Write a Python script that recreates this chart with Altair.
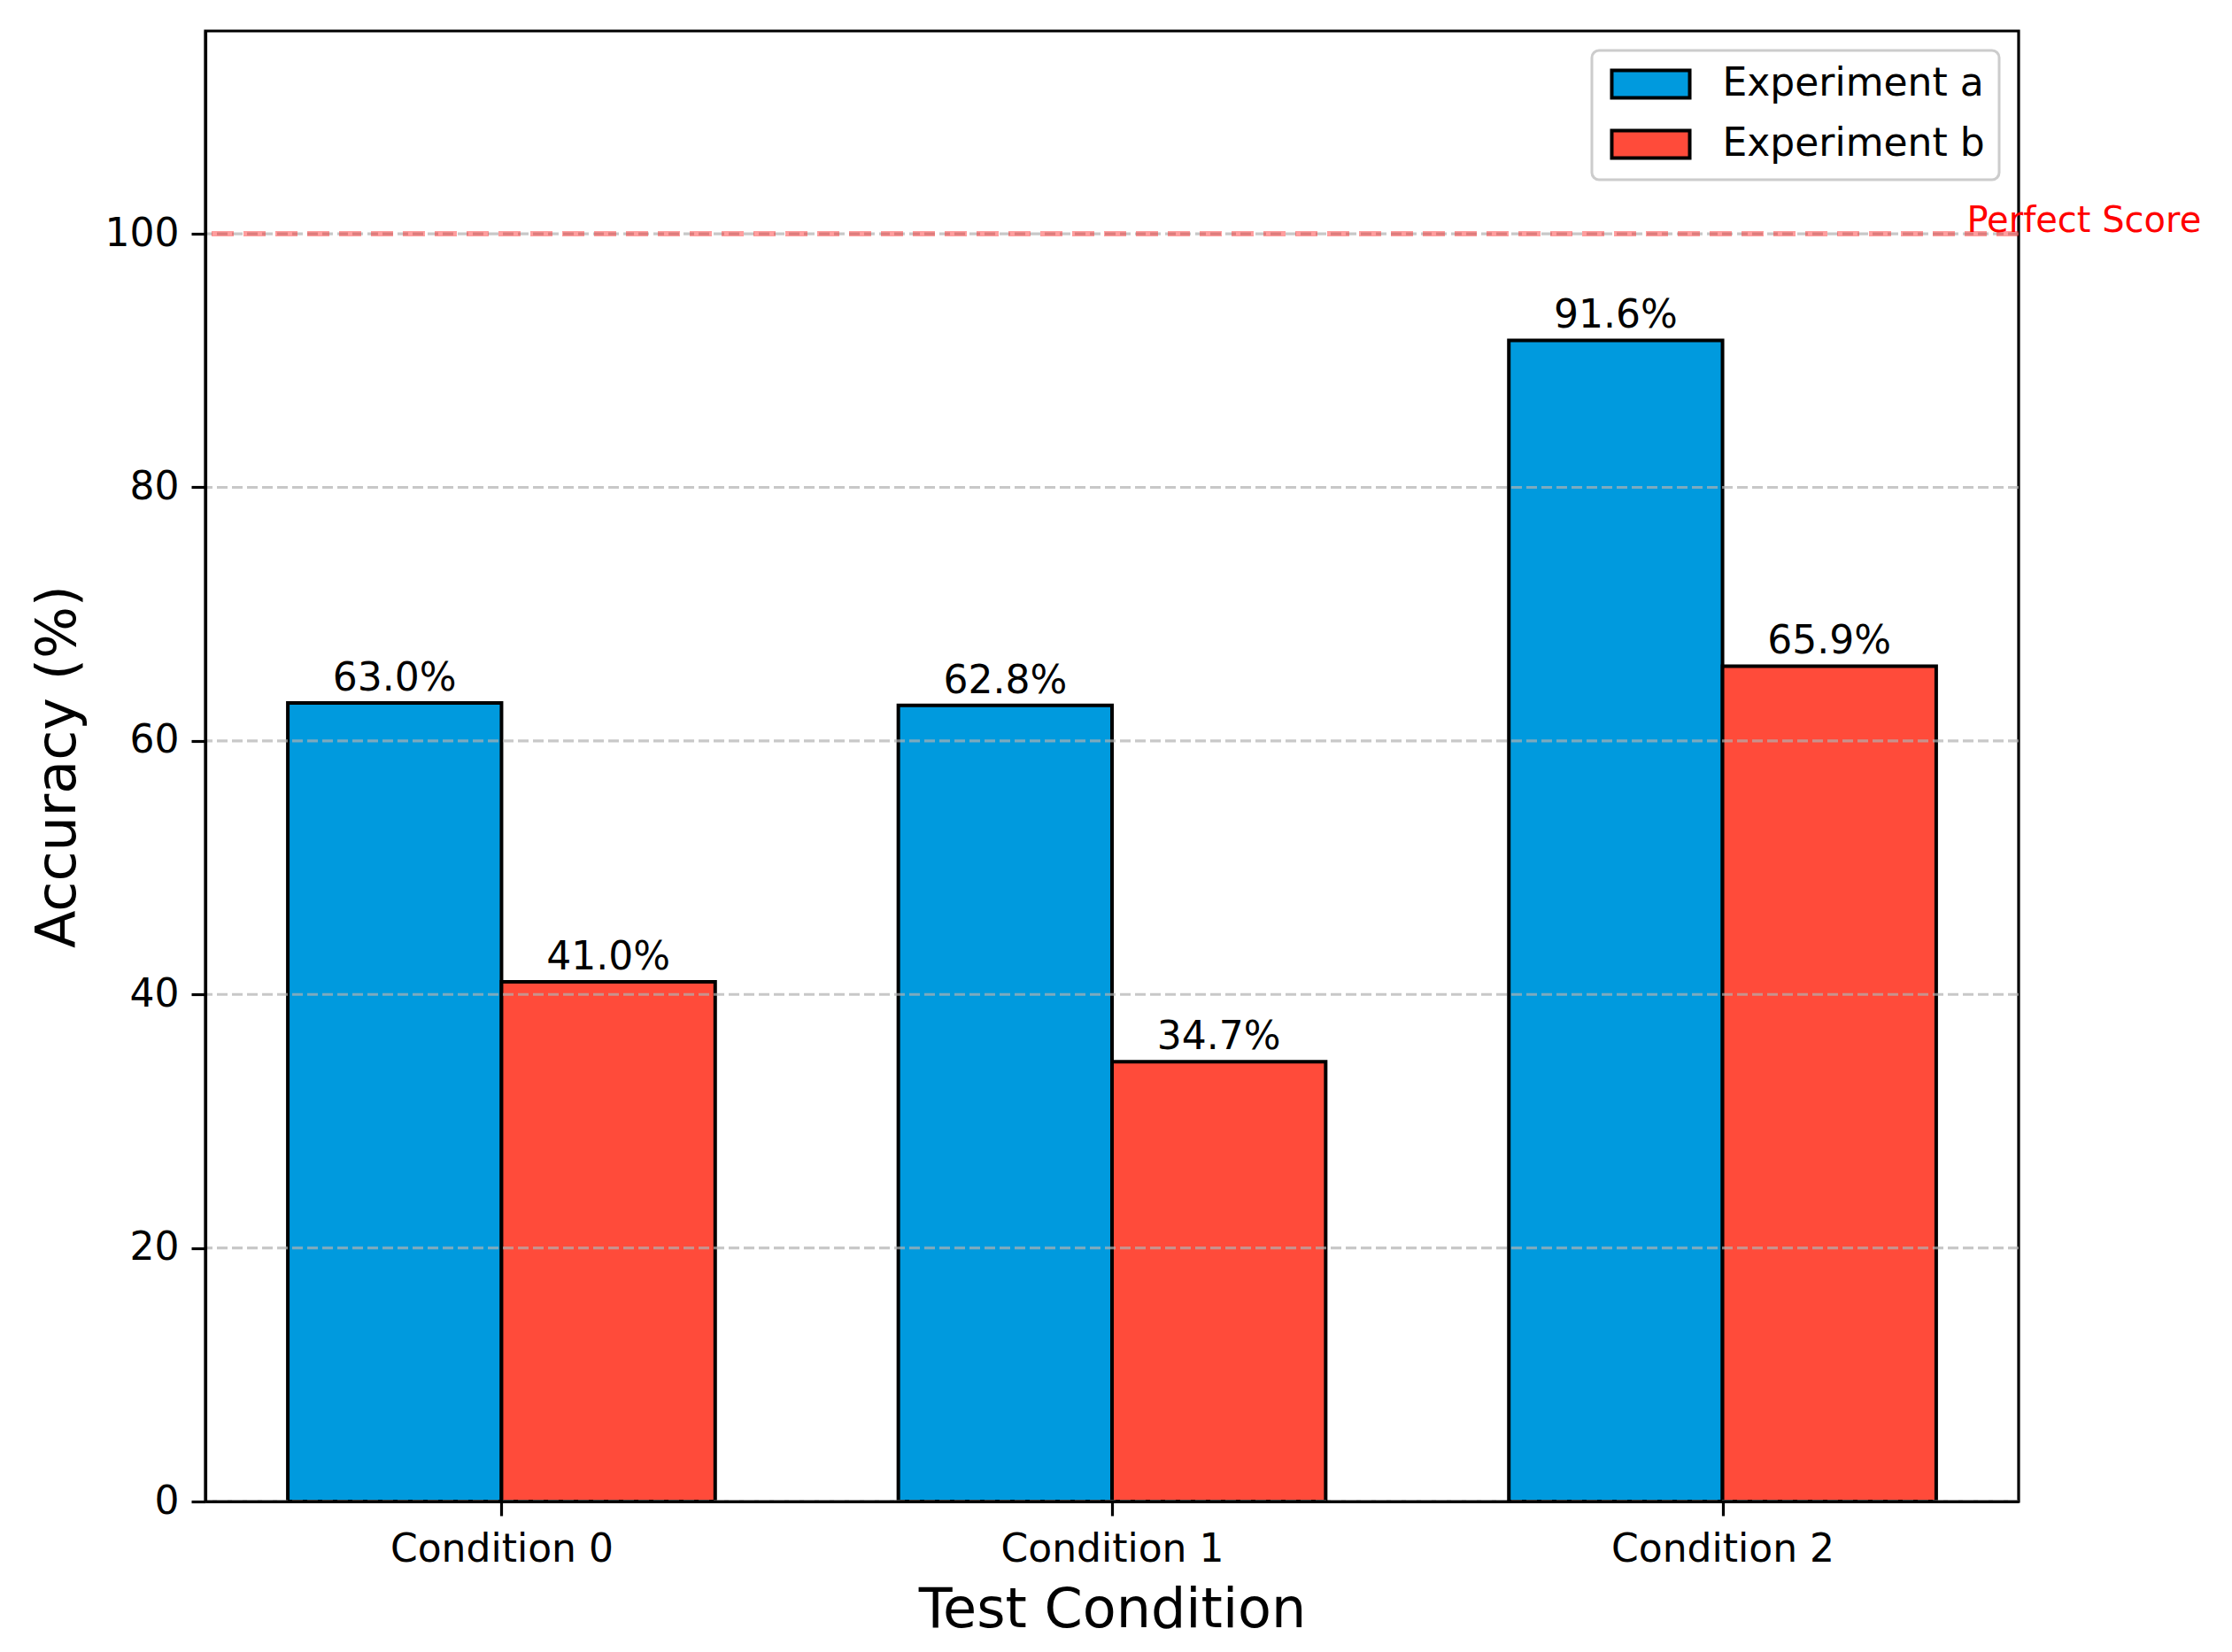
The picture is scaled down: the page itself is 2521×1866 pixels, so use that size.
import json
import altair as alt
import pandas as pd

# ---- data ----
categories = ["Condition 0", "Condition 1", "Condition 2"]
series = ["Experiment a", "Experiment b"]
exp_a = [63.0, 62.8, 91.6]
exp_b = [41.0, 34.7, 65.9]
y_ticks = [0, 20, 40, 60, 80, 100]
perfect_score = [100]
perfect_label = ["Perfect Score"]
perfect_label_x = [2.4]
colors = ["#009ADE", "#FF4B3A"]

rows = []
for i, c in enumerate(categories):
    rows.append({"idx": i, "cond": c, "exp": series[0], "k": 0, "val": exp_a[i]})
    rows.append({"idx": i, "cond": c, "exp": series[1], "k": 1, "val": exp_b[i]})
df = pd.DataFrame(rows)

W, H = 2048, 1661
BAR_W = 0.35
FONT = "DejaVu Sans"

xscale = alt.Scale(domain=[-0.485, 2.485], nice=False, zero=False)
yscale = alt.Scale(domain=[0, 116], nice=False, zero=True)

label_expr = json.dumps(categories) + "[round(datum.value)]"

xaxis = alt.Axis(
    title="Test Condition", values=[0, 1, 2], labelExpr=label_expr, grid=False,
    tickSize=16, tickWidth=3.2, tickColor="black",
    domainColor="black", domainWidth=3.2,
    labelFontSize=44, labelColor="black", labelFont=FONT, labelLimit=0,
    labelBaseline="alphabetic", labelPadding=51, labelFlush=False,
    titleFontSize=62, titleFontWeight="normal", titleColor="black", titleFont=FONT,
    titleX=W / 2, titleY=141, titleBaseline="alphabetic", titleAlign="center",
    titleLimit=0,
    zindex=1,
)
yaxis = alt.Axis(
    title="Accuracy (%)", values=y_ticks, format="d", grid=False,
    tickSize=16, tickWidth=3.2, tickColor="black",
    domainColor="black", domainWidth=3.2,
    labelFontSize=44, labelColor="black", labelFont=FONT, labelPadding=14,
    labelFlush=False, labelLimit=0,
    titleFontSize=62, titleFontWeight="normal", titleColor="black", titleFont=FONT,
    titleX=-148, titleY=H / 2, titleAngle=270, titleBaseline="alphabetic",
    titleAlign="center", titleLimit=0,
    zindex=1,
)

base = alt.Chart(df).transform_calculate(
    x0=f"datum.idx + (datum.k - 1) * {BAR_W}",
    x1=f"datum.idx + datum.k * {BAR_W}",
    xm=f"datum.idx + (datum.k - 0.5) * {BAR_W}",
    lbl="format(datum.val, '.1f') + '%'",
)

bars = base.mark_bar(stroke="black", strokeWidth=4, opacity=1).encode(
    x=alt.X("x0:Q", scale=xscale, axis=xaxis),
    x2="x1:Q",
    y=alt.Y("val:Q", scale=yscale, axis=yaxis),
    y2=alt.datum(0),
    color=alt.Color(
        "exp:N",
        scale=alt.Scale(domain=series, range=colors),
        legend=alt.Legend(
            title=None, orient="top-right", offset=22,
            labelFontSize=44, labelFont=FONT, labelColor="black", labelLimit=0,
            symbolType="M-2.84,-1H2.84V1H-2.84Z", symbolSize=961,
            symbolStrokeColor="black", symbolStrokeWidth=4, symbolOpacity=1,
            symbolOffset=28.5, labelOffset=59, rowPadding=20, padding=16,
            fillColor="rgba(255,255,255,0.8)", strokeColor="#cccccc",
            cornerRadius=8,
        ),
    ),
)

grid_df = pd.DataFrame({"g": y_ticks})
grid = alt.Chart(grid_df).mark_rule(
    color="#b0b0b0", opacity=0.7, strokeWidth=3.2, strokeDash=[12, 5]
).encode(y=alt.Y("g:Q", scale=yscale, axis=yaxis))

values = base.mark_text(fontSize=44, font=FONT, color="black",
                        baseline="alphabetic", dy=-14).encode(
    x=alt.X("xm:Q", scale=xscale, axis=xaxis),
    y=alt.Y("val:Q", scale=yscale, axis=yaxis),
    text="lbl:N",
)

ref_df = pd.DataFrame({"y": perfect_score, "x": perfect_label_x, "t": perfect_label})

ref_line = alt.Chart(ref_df).mark_rule(
    color="red", opacity=0.38, strokeWidth=6, strokeDash=[25, 11]
).encode(y=alt.Y("y:Q", scale=yscale, axis=yaxis))

ref_text = alt.Chart(ref_df).mark_text(
    color="red", fontSize=40, font=FONT, align="left", baseline="alphabetic", dy=-2
).encode(
    x=alt.X("x:Q", scale=xscale, axis=xaxis),
    y=alt.Y("y:Q", scale=yscale, axis=yaxis),
    text="t:N",
)

chart = alt.layer(bars, grid, ref_line, values, ref_text).properties(
    width=W, height=H,
    autosize=alt.AutoSizeParams(type="none"),
    padding={"left": 224, "top": 27, "right": 220, "bottom": 160},
).configure(font=FONT).configure_view(
    stroke="black", strokeWidth=3.2
).configure_legend(strokeWidth=3)

chart.save("out.html", embed_options={"renderer": "svg", "actions": False})
